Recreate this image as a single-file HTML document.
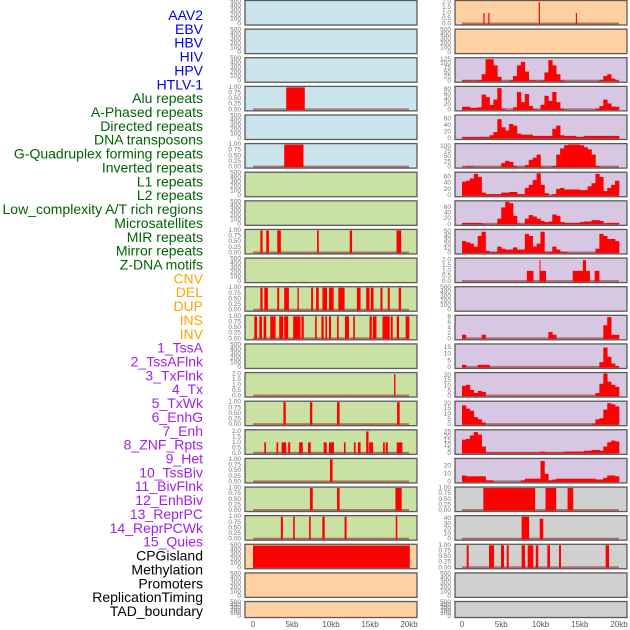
<!DOCTYPE html>
<html><head><meta charset="utf-8">
<style>
html,body{margin:0;padding:0;background:#fff;}
svg{display:block;font-family:"Liberation Sans",sans-serif;}
</style></head>
<body>
<svg id="chart" width="630" height="630" viewBox="0 0 630 630" xmlns="http://www.w3.org/2000/svg">
<g id="labels"></g>
<g id="panels"></g>
<g id="xaxes"></g>
</svg>
<script>
// ---- track labels ----
const trackLabels = ["AAV2","EBV","HBV","HIV","HPV","HTLV-1","Alu repeats","A-Phased repeats","Directed repeats","DNA transposons","G-Quadruplex forming repeats","Inverted repeats","L1 repeats","L2 repeats","Low_complexity A/T rich regions","Microsatellites","MIR repeats","Mirror repeats","Z-DNA motifs","CNV","DEL","DUP","INS","INV","1_TssA","2_TssAFlnk","3_TxFlnk","4_Tx","5_TxWk","6_EnhG","7_Enh","8_ZNF_Rpts","9_Het","10_TssBiv","11_BivFlnk","12_EnhBiv","13_ReprPC","14_ReprPCWk","15_Quies","CPGisland","Methylation","Promoters","ReplicationTiming","TAD_boundary"];
const labelGroups = [6,13,5,15,5];
const groupColors = ["#0000ee","#006400","#ffa500","#a020f0","#000000"];

// ---- x axis ----
const xTickKb = [0,5,10,15,20];
const xTickText = ["0","5kb","10kb","15kb","20kb"];

// ---- tick sets ----
const t500 = [0,100,200,300,400,500];
const t500Text = ["0","100","200","300","400","500"];
const t1 = [0,0.25,0.5,0.75,1];
const t1Text = ["0.00","0.25","0.50","0.75","1.00"];
const t2 = [0,0.5,1,1.5,2];
const t2Text = ["0.0","0.5","1.0","1.5","2.0"];

// ---- left column segment data [startKb, endKb, value] ----
const segL3 = [[4.26,6.64,1]];
const segL5 = [[4.0,6.47,1]];
const segL8 = [[0.94,1.23,1],[1.70,2.04,1],[3.11,3.57,1],[8.21,8.43,1],[12.4,12.7,1],[18.4,19.0,1]];
const segL10 = [[0.94,1.23,1],[1.45,1.91,1],[3.11,3.36,1],[4.0,4.6,1],[5.7,5.87,1],[7.45,7.7,1],[8.09,8.43,1],[8.9,9.49,1],[9.74,10.34,1],[10.94,11.74,1],[13.32,13.79,1],[14.51,14.94,1],[15.1,15.45,1],[16.34,16.6,1],[17.28,17.53,1],[18.68,18.98,1]];
const segL11 = [[0.17,0.51,1],[0.81,1.15,1],[1.36,1.70,1],[2.21,2.89,1],[3.36,3.87,1],[4.0,4.51,1],[5.15,6.09,1],[6.21,6.51,1],[7.96,8.17,1],[8.77,9.06,1],[9.28,9.49,1],[9.74,10.0,1],[10.77,10.98,1],[11.79,12.3,1],[12.85,13.06,1],[14.94,15.23,1],[15.36,15.83,1],[16.6,17.53,1],[17.66,17.91,1],[18.43,18.72,1],[19.57,20.04,1]];
const segL13 = [[18.09,18.26,2]];
const segL14 = [[3.9,4.2,1],[7.3,7.6,1],[10.77,11.1,1],[18.47,18.8,1]];
const segL15 = [[1.45,1.66,1],[3.02,3.23,1],[3.66,4.26,1],[4.51,4.77,1],[5.91,6.38,1],[7.06,7.40,1],[9.06,9.45,1],[9.74,10.38,1],[11.66,11.87,1],[12.94,13.15,1],[13.45,13.79,1],[14.51,14.81,2],[14.89,15.4,1],[16.68,16.89,1],[17.02,17.28,1],[18.43,19.15,1]];
const segL16 = [[9.87,10.2,1]];
const segL17 = [[7.3,7.66,1],[10.77,11.1,1],[18.26,19.06,1]];
const segL18 = [[3.57,3.83,1],[5.15,5.36,1],[7.19,7.4,1],[8.89,9.19,1],[11.74,12.0,1],[18.3,18.5,1]];
const segL19 = [[0,20.1,500]];

// ---- right column data ----
const segR0 = [[2.72,2.87,1],[3.35,3.5,1],[9.78,9.93,2],[14.5,14.65,1]];
const histR2 = [5,5,4,4,6,40,125,125,90,25,0,0,5,30,90,110,55,5,5,2,5,50,120,90,40,5,0,0,0,0,0,0,0,0,0,8,30,40,15,5];
const histR3 = [12,12,8,8,10,60,50,20,40,85,5,0,0,10,70,30,62,15,3,0,20,55,35,70,30,5,0,0,0,0,0,0,0,0,5,15,40,25,13,12];
const histR4 = [5,5,5,5,5,5,5,10,20,60,35,25,45,40,15,12,12,12,8,8,8,8,8,30,40,10,8,8,8,5,5,8,8,8,8,8,8,8,8,8];
const histR5 = [0,3,3,0,0,0,0,0,0,0,20,30,25,5,0,0,10,35,45,60,3,0,0,5,60,90,105,108,108,108,105,95,85,60,5,0,0,0,0,0];
const histR6 = [45,48,55,70,60,10,5,5,5,5,10,10,12,12,5,5,25,35,50,72,35,8,0,5,22,25,20,20,20,20,18,18,30,40,70,60,15,25,35,48];
const histR7 = [5,5,5,5,5,2,0,0,0,20,60,80,75,30,3,0,20,33,28,20,12,8,10,35,30,8,5,5,5,5,8,10,10,15,15,12,3,5,5,5];
const histR8 = [28,25,22,15,40,50,5,2,2,15,10,8,8,13,8,8,45,40,15,22,50,3,3,15,8,3,2,0,0,0,0,0,0,0,10,45,40,33,33,28];
const segR9 = [[8.26,9.1,1],[9.87,10.7,1],[9.87,10.0,2],[14.1,16.3,1],[15.4,15.8,2],[16.9,17.5,1]];
const histR11 = [1.5,0,0,0,0,1.5,0,0,0,0,0,0,0,0,0,0,0,0,0,0,0,0,2.5,1.5,0,0,0,0,0,0,0,0,0,0,0,0,5,8,1.5,1.5];
const histR12 = [2,0,0,0,2,2,2,0,0,0,0,0,0,0,0,0,0,0,0,0,0,0,0,0,0,0,0,0,0,0,0,0,0,0,0,4,15,8,3,1];
const histR13 = [10,11,6,3,5,4,0,0,0,0,0,0,0,0,0,0,0,0,0,0,0,0,0,0,0,0,0,0,0,0,0,0,0,0,3,12,22,14,11,9];
const histR14 = [18,15,13,7,5,2,0,0,0,0,0,0,0,0,0,0,0,0,0,0,0,0,0,0,0,0,0,0,0,0,0,0,0,1,5,6,14,20,19,17];
const histR15 = [16,17,21,25,22,8,1,1,1,1,1,1,1,1,1,1,1,1,1,1,2,1,1,1,1,1,2,2,2,2,2,3,3,4,4,3,8,13,15,14];
const histR16 = [8,7,7,7,7,7,2,2,0,0,0,0,0,0,0,2,4,4,4,4,26,10,2,3,4,4,4,4,4,4,4,4,4,4,3,3,5,8,8,7];
const segR17 = [[2.72,9.32,1],[10.64,12.0,1],[13.45,14.17,1]];
const segR18 = [[7.6,8.55,44],[9.9,10.35,40]];
const segR19 = [[0.6,0.85,1],[3.44,4.08,1],[4.97,5.35,1],[5.7,5.95,1],[7.6,8.03,1],[8.37,9.08,1],[9.4,9.72,1],[10.87,11.21,1],[12.36,12.61,1],[18.3,18.73,1]];

const NS = "http://www.w3.org/2000/svg";
function mk(tag, attrs, parent){
  const e = document.createElementNS(NS, tag);
  for (const k in attrs) e.setAttribute(k, attrs[k]);
  parent.appendChild(e);
  return e;
}
const BG = {blue:"#c9e4ec", green:"#c9e1a2", orange:"#ffd0a0", purple:"#d7c7e2", grey:"#d0d0d0"};

// panel specs: col,row,bg,kind,data,max,ticks,tickText
const panels = [];
function P(col,row,bg,kind,data,max,ticks,tickText){panels.push({col,row,bg,kind,data,max,ticks,tickText});}
function E(col,row,bg){P(col,row,bg,"empty",null,500,t500,t500Text);}
// left column
E(0,0,"blue");E(0,1,"blue");E(0,2,"blue");
P(0,3,"blue","seg",segL3,1,t1,t1Text);
E(0,4,"blue");
P(0,5,"blue","seg",segL5,1,t1,t1Text);
E(0,6,"green");E(0,7,"green");
P(0,8,"green","seg",segL8,1,t1,t1Text);
E(0,9,"green");
P(0,10,"green","seg",segL10,1,t1,t1Text);
P(0,11,"green","seg",segL11,1,t1,t1Text);
E(0,12,"green");
P(0,13,"green","seg",segL13,2.05,t2,t2Text);
P(0,14,"green","seg",segL14,1,t1,t1Text);
P(0,15,"green","seg",segL15,2.05,t2,t2Text);
P(0,16,"green","seg",segL16,1,t1,t1Text);
P(0,17,"green","seg",segL17,1,t1,t1Text);
P(0,18,"green","seg",segL18,1,t1,t1Text);
P(0,19,"orange","seg",segL19,505,t500,t500Text);
E(0,20,"orange");E(0,21,"orange");
// right column
P(1,0,"orange","seg",segR0,2.05,t2,t2Text);
E(1,1,"orange");
P(1,2,"purple","hist",histR2,128,[0,25,50,75,100,125],["0","25","50","75","100","125"]);
P(1,3,"purple","hist",histR3,88,[0,20,40,60,80],["0","20","40","60","80"]);
P(1,4,"purple","hist",histR4,70,[0,20,40,60],["0","20","40","60"]);
P(1,5,"purple","hist",histR5,108,[0,25,50,75,100],["0","25","50","75","100"]);
P(1,6,"purple","hist",histR6,72,[0,20,40,60],["0","20","40","60"]);
P(1,7,"purple","hist",histR7,80,[0,20,40,60],["0","20","40","60"]);
P(1,8,"purple","hist",histR8,53,[0,10,20,30,40,50],["0","10","20","30","40","50"]);
P(1,9,"purple","seg",segR9,2.1,t2,t2Text);
E(1,10,"purple");
P(1,11,"purple","hist",histR11,8.3,[0,2,4,6,8],["0","2","4","6","8"]);
P(1,12,"purple","hist",histR12,17,[0,5,10,15],["0","5","10","15"]);
P(1,13,"purple","hist",histR13,22,[0,5,10,15,20],["0","5","10","15","20"]);
P(1,14,"purple","hist",histR14,21,[0,5,10,15,20],["0","5","10","15","20"]);
P(1,15,"purple","hist",histR15,26.5,[0,5,10,15,20,25],["0","5","10","15","20","25"]);
P(1,16,"purple","hist",histR16,28,[0,10,20],["0","10","20"]);
P(1,17,"grey","seg",segR17,1,t1,t1Text);
P(1,18,"grey","seg",segR18,44,[0,10,20,30,40],["0","10","20","30","40"]);
P(1,19,"grey","seg",segR19,1,t1,t1Text);
E(1,20,"grey");E(1,21,"grey");

const colX = [{left:245,right:417,x0:253,k:7.8,tx:241},{left:455,right:627,x0:462,k:7.85,tx:451}];
function rowTop(r){return 0.5 + r*28.62;}
function rowH(r){return r===21 ? 16 : 24.5;}

// labels
const lg = document.getElementById("labels");
let gi=0, gc=0;
trackLabels.forEach((t,i)=>{
  const el = mk("text",{x:203,y:15+i*13.86,"text-anchor":"end","dominant-baseline":"central","font-size":"14",fill:groupColors[gi]},lg);
  el.textContent = t;
  
  
  gc++; if(gc>=labelGroups[gi]){gi++;gc=0;}
});

// panels
const pg = document.getElementById("panels");
panels.forEach(p=>{
  const c = colX[p.col], top = rowTop(p.row), h = rowH(p.row);
  const g = mk("g",{},pg);
  
  
  const bg = mk("rect",{x:c.left,y:top,width:c.right-c.left,height:h,fill:BG[p.bg]},g);
  
  
  const y0 = top+h-1, y1 = top+1;
  const ys = v => y0 - (v/p.max)*(y0-y1);
  const xs = kb => c.x0 + kb*c.k;
  if (p.kind!=="empty"){
    const base = mk("rect",{x:xs(0),y:y0-1.5,width:xs(20)-xs(0),height:2,fill:"rgba(150,30,30,0.55)"},g);
    
    
  }
  if (p.kind==="seg"){
    p.data.forEach(s=>{
      const r = mk("rect",{x:xs(s[0]),y:ys(s[2]),width:Math.max(1,xs(s[1])-xs(s[0])),height:y0-ys(s[2]),fill:"#ff0000"},g);
      
      
    });
  } else if (p.kind==="hist"){
    p.data.forEach((v,i)=>{
      if(v<=0) return;
      const r = mk("rect",{x:xs(i*0.5),y:ys(v),width:xs(0.5)-xs(0)+0.3,height:y0-ys(v),fill:"#ff0000"},g);
      
      
    });
  }
  const border = mk("rect",{x:c.left,y:top,width:c.right-c.left,height:h,fill:"none",stroke:"#5a5a5a","stroke-width":"1.3"},g);
  
  
  const tmax = p.kind==="empty" ? 500 : p.max;
  p.ticks.forEach((v,i)=>{
    const yy = p.kind==="empty" ? y0 - (v/500)*(y0-y1) : ys(v);
    const t = mk("text",{x:c.tx,y:yy,"text-anchor":"end","dominant-baseline":"central","font-size":"6.5",fill:"#777"},g);
    t.textContent = p.tickText[i];
    
    
  });
});

// x axes
const xg = document.getElementById("xaxes");
colX.forEach(c=>{
  xTickKb.forEach((kb,i)=>{
    const t = mk("text",{x:c.x0+kb*c.k,y:627,"text-anchor":"middle","font-size":"8",fill:"#555"},xg);
    t.textContent = xTickText[i];
    
    
  });
});
</script>
</body></html>
